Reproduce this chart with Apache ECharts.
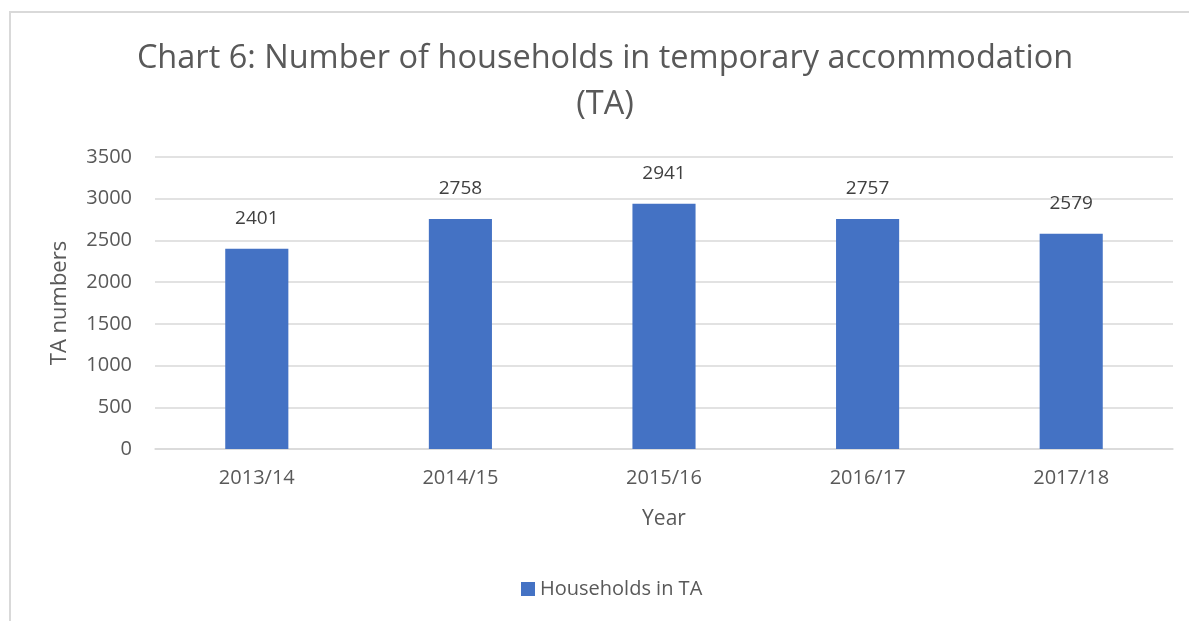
<!DOCTYPE html>
<html>
<head>
<meta charset="utf-8">
<script src="https://cdn.jsdelivr.net/npm/echarts@6/dist/echarts.min.js"></script>
<style>
  html, body { margin: 0; padding: 0; background: #fff; }
  #chart { width: 1189px; height: 621px; }
</style>
</head>
<body>
<div id="chart"></div>
<script>
// 数据
var years = ['2013/14', '2014/15', '2015/16', '2016/17', '2017/18'];
var households = [2401, 2758, 2941, 2757, 2579];
var seriesName = 'Households in TA';

var font = '"Open Sans", "Noto Sans", sans-serif';

var myChart = echarts.init(document.getElementById('chart'));
var option = {
  animation: false,
  textStyle: { fontFamily: font },
  title: {
    text: 'Chart 6: Number of households in temporary accommodation\n(TA)',
    left: 600,
    textAlign: 'center',
    top: 31,
    textStyle: {
      fontFamily: font,
      fontSize: 32.5,
      fontWeight: 'normal',
      color: '#595959',
      lineHeight: 46
    }
  },
  graphic: [{
    type: 'rect',
    shape: { x: 10, y: 12, width: 1200, height: 700 },
    style: { fill: 'none', stroke: '#d9d9d9', lineWidth: 2 },
    silent: true
  }],
  legend: {
    bottom: 17,
    left: 516,
    itemWidth: 14,
    itemHeight: 14,
    icon: 'rect',
    itemGap: 6,
    textStyle: { fontFamily: font, fontSize: 20, color: '#595959' },
    data: [seriesName]
  },
  grid: {
    left: 155,
    right: 16,
    top: 157,
    bottom: 172
  },
  xAxis: {
    type: 'category',
    data: years,
    name: 'Year',
    nameLocation: 'middle',
    nameGap: 60,
    nameTextStyle: { fontFamily: font, fontSize: 21, color: '#595959' },
    axisLine: { lineStyle: { color: '#d9d9d9', width: 1.5 } },
    axisTick: { show: false },
    axisLabel: { fontSize: 20, color: '#595959', margin: 19 }
  },
  yAxis: {
    type: 'value',
    min: 0,
    max: 3500,
    interval: 500,
    name: 'TA numbers',
    nameLocation: 'middle',
    nameGap: 84,
    nameTextStyle: { fontFamily: font, fontSize: 22, color: '#595959' },
    axisLine: { show: false },
    axisTick: { show: false },
    axisLabel: {
      fontSize: 20, color: '#595959', margin: 23,
      formatter: function (v) { return String(v); }
    },
    splitLine: { lineStyle: { color: '#d9d9d9', width: 1.5 } }
  },
  series: [{
    name: seriesName,
    type: 'bar',
    data: households,
    barWidth: '31%',
    itemStyle: { color: '#4472C4' },
    label: {
      show: true,
      position: 'top',
      distance: 21,
      fontSize: 19,
      color: '#404040'
    }
  }]
};
myChart.setOption(option);
</script>
</body>
</html>
